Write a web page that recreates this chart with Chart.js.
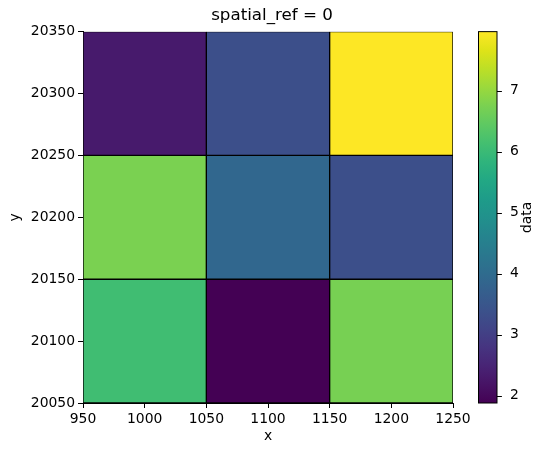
<!DOCTYPE html>
<html>
<head>
<meta charset="utf-8">
<script src="https://cdn.jsdelivr.net/npm/chart.js@4"></script>
<style>
  body { margin: 0; background: #fff; }
</style>
</head>
<body>
<canvas id="chart-grid" width="544" height="455"></canvas>
<script>
// cell centres along x, and the bottom/top edges of each row (from bottom up)
var xCenters = [1000, 1100, 1200];
var rowBottoms = [20050, 20150, 20250];
var rowTops = [20150, 20250, 20350];
// values per row, bottom row first
var row0 = [6.08, 1.88, 6.72];
var row1 = [6.75, 3.89, 3.34];
var row2 = [2.31, 3.34, 7.97];
var rows = [row0, row1, row2];

var xTicks = [950, 1000, 1050, 1100, 1150, 1200, 1250];
var yTicks = [20050, 20100, 20150, 20200, 20250, 20300, 20350];
var cbTicks = [2, 3, 4, 5, 6, 7];
var cbMin = 1.88, cbMax = 7.97;

// viridis stops (0 .. 1, every 0.05)
var viridis = ["#440154","#471365","#482475","#463480","#414487","#3b528b","#355f8d",
  "#2f6c8e","#2a788e","#25848e","#21918c","#1e9c89","#22a884","#2fb47c","#44bf70",
  "#5ec962","#7ad151","#9bd93c","#bddf26","#dfe318","#fde725"];

function hexToRgb(h) {
  return [parseInt(h.substr(1,2),16), parseInt(h.substr(3,2),16), parseInt(h.substr(5,2),16)];
}

function colorFor(v) {
  var t = (v - cbMin) / (cbMax - cbMin);
  t = Math.max(0, Math.min(1, t));
  var p = t * (viridis.length - 1);
  var i = Math.min(Math.floor(p), viridis.length - 2);
  var f = p - i;
  var a = hexToRgb(viridis[i]), b = hexToRgb(viridis[i + 1]);
  var c = a.map(function (x, k) { return Math.round(x + (b[k] - x) * f); });
  return "rgb(" + c.join(",") + ")";
}

var fontFamily = "'DejaVu Sans', sans-serif";
var tickFont = { family: fontFamily, size: 13.9 };
var plainNumber = function (v) { return String(v); };

var datasets = rows.map(function (vals, r) {
  return {
    label: "row " + r,
    stack: "grid",
    data: vals.map(function (v, i) {
      return { x: xCenters[i], y: [rowBottoms[r], rowTops[r]] };
    }),
    backgroundColor: vals.map(colorFor),
    borderColor: "#000",
    borderWidth: 1,
    borderSkipped: false,
    barThickness: "flex",
    barPercentage: 1,
    categoryPercentage: 1
  };
});

// draws the colour bar next to the plot, using the cb scale for its positions
var colorbarPlugin = {
  id: "colorbar",
  afterDraw: function (chart) {
    var ctx = chart.ctx;
    var cb = chart.scales.cb;
    var x0 = chart.chartArea.right + 25.5;
    var w = 18.5;
    var yTop = cb.getPixelForValue(cbMax);
    var yBot = cb.getPixelForValue(cbMin);
    var grad = ctx.createLinearGradient(0, yBot, 0, yTop);
    viridis.forEach(function (c, i) { grad.addColorStop(i / (viridis.length - 1), c); });
    ctx.save();
    ctx.fillStyle = grad;
    ctx.fillRect(x0, yTop, w, yBot - yTop);
    ctx.strokeStyle = "#000";
    ctx.lineWidth = 1;
    ctx.strokeRect(x0, yTop, w, yBot - yTop);
    cbTicks.forEach(function (t) {
      var y = Math.round(cb.getPixelForValue(t)) + 0.5;
      ctx.beginPath();
      ctx.moveTo(x0 + w, y);
      ctx.lineTo(x0 + w + 4.9, y);
      ctx.stroke();
    });
    ctx.translate(x0 + w + 30, (yTop + yBot) / 2);
    ctx.rotate(-Math.PI / 2);
    ctx.fillStyle = "#000";
    ctx.font = "13.9px " + fontFamily;
    ctx.textAlign = "center";
    ctx.textBaseline = "middle";
    ctx.fillText("data", 0, 0);
    ctx.restore();
  }
};

var ctx = document.getElementById("chart-grid").getContext("2d");
var chart = new Chart(ctx, {
  type: "bar",
  data: { datasets: datasets },
  plugins: [colorbarPlugin],
  options: {
    responsive: false,
    animation: false,
    layout: { padding: 0 },
    plugins: {
      legend: { display: false },
      tooltip: { enabled: false },
      title: {
        display: true,
        text: "spatial_ref = 0",
        color: "#000",
        font: { family: fontFamily, size: 16.7, weight: "normal" },
        padding: { top: 6, bottom: 5.6 }
      }
    },
    scales: {
      x: {
        type: "linear",
        min: 950,
        max: 1250,
        offset: false,
        afterFit: function (s) { s.height = 52; },
        afterBuildTicks: function (s) { s.ticks = xTicks.map(function (v) { return { value: v }; }); },
        grid: { offset: false, drawOnChartArea: false, tickLength: 5, color: "#000" },
        border: { display: true, color: "#000", width: 1 },
        ticks: { color: "#000", font: tickFont, padding: 3, maxRotation: 0, callback: plainNumber },
        title: { display: true, text: "x", color: "#000", font: tickFont, padding: { top: 0, bottom: 10 } }
      },
      y: {
        type: "linear",
        stacked: false,
        min: 20050,
        max: 20350,
        beginAtZero: false,
        afterFit: function (s) { s.width = 83; },
        afterBuildTicks: function (s) { s.ticks = yTicks.map(function (v) { return { value: v }; }); },
        grid: { drawOnChartArea: false, tickLength: 5, color: "#000" },
        border: { display: true, color: "#000", width: 1 },
        ticks: { color: "#000", font: tickFont, padding: 3, callback: plainNumber },
        title: { display: true, text: "y", color: "#000", font: tickFont, padding: { top: 6.7, bottom: 0 } }
      },
      cb: {
        type: "linear",
        position: "right",
        min: cbMin,
        max: cbMax,
        afterFit: function (s) { s.width = 91; s.paddingTop = 0; s.paddingBottom = 0; },
        afterBuildTicks: function (s) { s.ticks = cbTicks.map(function (v) { return { value: v }; }); },
        grid: { display: false },
        border: { display: false },
        ticks: { color: "#000", font: tickFont, padding: 49, callback: plainNumber }
      }
    }
  }
});
</script>
</body>
</html>
